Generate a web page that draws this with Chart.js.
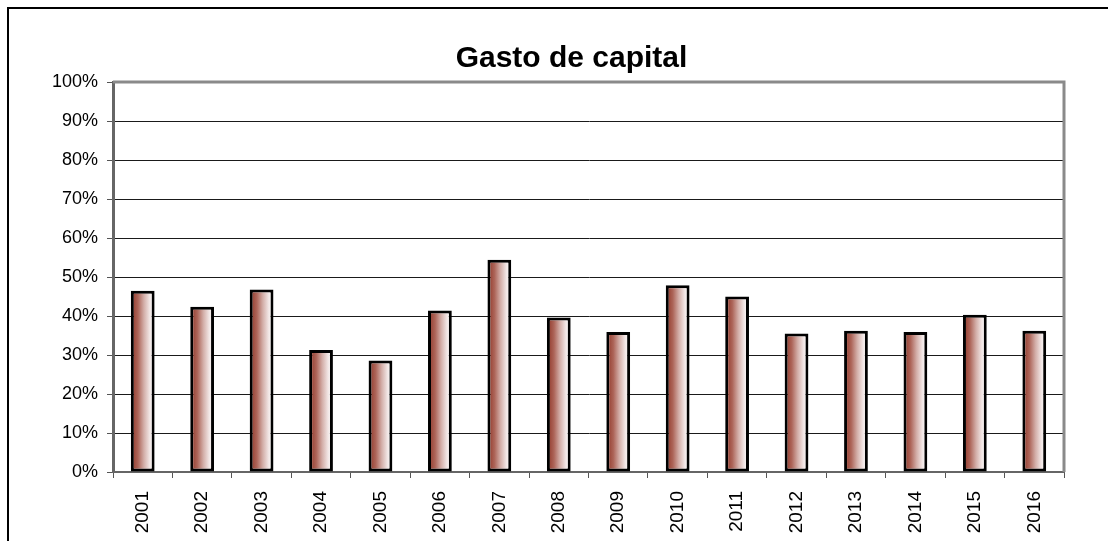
<!DOCTYPE html>
<html>
<head>
<meta charset="utf-8">
<script src="https://cdn.jsdelivr.net/npm/chart.js@4/dist/chart.umd.min.js"></script>
<style>
    html, body { margin: 0; padding: 0; background: #fff; overflow: hidden; }
    #chart { position: absolute; left: 0; top: 0; }
    #frame {
        position: absolute; left: 7px; top: 7px;
        width: 1200px; height: 600px;
        border: 2px solid #000; pointer-events: none;
    }
</style>
</head>
<body>
<canvas id="chart" width="1143" height="560"></canvas>
<div id="frame"></div>
<script>
// ===== Данные =====
const years = ["2001", "2002", "2003", "2004", "2005", "2006", "2007", "2008",
               "2009", "2010", "2011", "2012", "2013", "2014", "2015", "2016"];
const capitalSpending = [46.5, 42.4, 46.8, 31.3, 28.6, 41.4, 54.4, 39.6,
                         35.9, 47.9, 45.0, 35.5, 36.2, 35.9, 40.3, 36.2];
const chartTitle = "Gasto de capital";

const FONT = "'Liberation Sans', Arial, sans-serif";

// градиент столбцов: тёмно-коричневый слева -> белый справа
const barGradient = {
    id: "barGradient",
    beforeDatasetsDraw(chart) {
        const ctx = chart.ctx;
        chart.getDatasetMeta(0).data.forEach(el => {
            const left = el.x - el.width / 2;
            const right = el.x + el.width / 2;
            if (!isFinite(left) || !isFinite(right)) return;
            const g = ctx.createLinearGradient(left, 0, right, 0);
            g.addColorStop(0, "#8e3324");
            g.addColorStop(0.3, "#ad6559");
            g.addColorStop(0.55, "#d3aea8");
            g.addColorStop(0.8, "#f2e7e6");
            g.addColorStop(1, "#ffffff");
            el.options = Object.assign({}, el.options, { backgroundColor: g });
        });
    }
};

// рамка области построения (сверху и справа серая)
const plotBorder = {
    id: "plotBorder",
    beforeDatasetsDraw(chart) {
        const { ctx, chartArea: a } = chart;
        ctx.save();
        ctx.strokeStyle = "#8a8a8a";
        ctx.lineWidth = 3;
        ctx.beginPath();
        ctx.moveTo(a.left, a.top);
        ctx.lineTo(a.right, a.top);
        ctx.lineTo(a.right, a.bottom);
        ctx.stroke();
        ctx.restore();
    }
};

new Chart(document.getElementById("chart"), {
    type: "bar",
    data: {
        labels: years,
        datasets: [{
            label: chartTitle,
            data: capitalSpending,
            backgroundColor: "#a0442f",
            borderColor: "#000000",
            borderWidth: 3,
            borderSkipped: false,
            barPercentage: 0.4,
            categoryPercentage: 1
        }]
    },
    options: {
        responsive: false,
        animation: false,
        layout: { padding: 0 },
        plugins: {
            legend: { display: false },
            tooltip: { enabled: false },
            title: {
                display: true,
                text: chartTitle,
                color: "#000",
                font: { family: FONT, size: 30, weight: "bold" },
                padding: { top: 41, bottom: 5 }
            }
        },
        scales: {
            x: {
                afterFit(scale) { scale.height = 88; },
                grid: {
                    display: true,
                    drawOnChartArea: false,
                    tickLength: 6,
                    color: "#555"
                },
                border: { color: "#666", width: 2 },
                ticks: {
                    color: "#000",
                    minRotation: 90,
                    maxRotation: 90,
                    padding: 13,
                    font: { family: FONT, size: 19 }
                }
            },
            y: {
                min: 0,
                max: 100,
                afterFit(scale) { scale.width = 113; },
                grid: {
                    color: "#1a1a1a",
                    tickLength: 6,
                    tickColor: "#555"
                },
                border: { color: "#666", width: 3 },
                ticks: {
                    stepSize: 10,
                    color: "#000",
                    padding: 9,
                    font: { family: FONT, size: 18 },
                    callback: v => v + "%"
                }
            },
            // пустая ось справа — только чтобы оставить место, как в оригинале
            yRight: {
                position: "right",
                min: 0,
                max: 100,
                afterFit(scale) { scale.width = 79; },
                grid: { display: false },
                border: { display: false },
                ticks: { display: false }
            }
        }
    },
    plugins: [barGradient, plotBorder]
});
</script>
</body>
</html>
